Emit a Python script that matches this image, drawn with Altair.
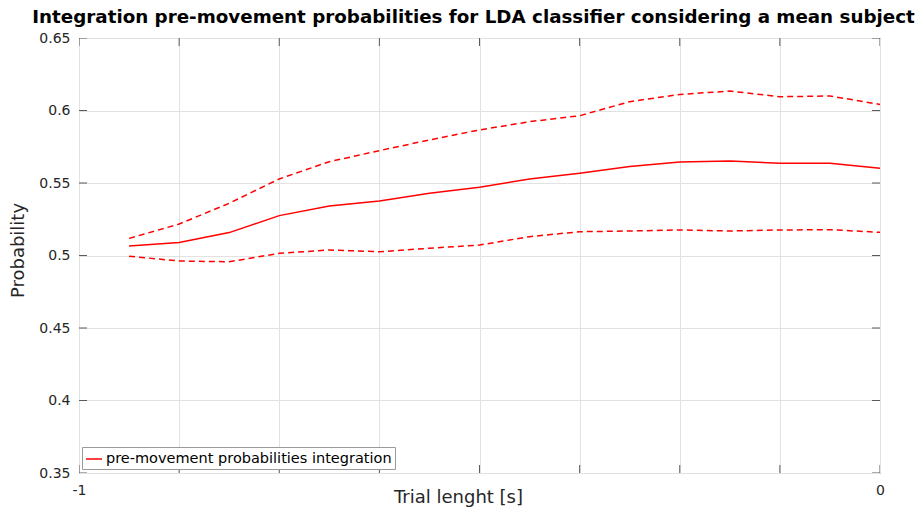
import altair as alt
import pandas as pd

# Trial time (s) at which the probabilities are evaluated
trial_time = [-0.9375, -0.875, -0.8125, -0.75, -0.6875, -0.625, -0.5625, -0.5,
              -0.4375, -0.375, -0.3125, -0.25, -0.1875, -0.125, -0.0625, 0.0]

# Integrated pre-movement probability (mean subject) and its upper / lower band
prob_mean = [0.5066, 0.5089, 0.5158, 0.5275, 0.5341, 0.5376, 0.5429, 0.5470,
             0.5528, 0.5567, 0.5613, 0.5645, 0.5652, 0.5636, 0.5636, 0.5601]
prob_upper = [0.5118, 0.5217, 0.5360, 0.5528, 0.5647, 0.5723, 0.5797, 0.5866,
              0.5923, 0.5964, 0.6061, 0.6111, 0.6134, 0.6095, 0.6100, 0.6042]
prob_lower = [0.4995, 0.4962, 0.4957, 0.5015, 0.5038, 0.5026, 0.5050, 0.5072,
              0.5130, 0.5164, 0.5169, 0.5176, 0.5169, 0.5176, 0.5178, 0.5160]

x_ticks = [-1.0, -0.875, -0.75, -0.625, -0.5, -0.375, -0.25, -0.125, 0.0]
y_ticks = [0.35, 0.4, 0.45, 0.5, 0.55, 0.6, 0.65]
x_range = [-1.0, 0.0]
y_range = [0.35, 0.65]

series_name = "pre-movement probabilities integration"
title_text = "Integration pre-movement probabilities for LDA classifier considering a mean subject"

df = pd.DataFrame({
    "t": trial_time,
    "mean": prob_mean,
    "upper": prob_upper,
    "lower": prob_lower,
    "series": [series_name] * len(trial_time),
})
x_tick_df = pd.DataFrame({"t": x_ticks})
y_tick_df = pd.DataFrame({"p": y_ticks})

RED = "#ff0000"
AX = "#262626"
TICK = "#5a5a5a"
GRID = "#e2e2e2"
FONT = "DejaVu Sans"
W, H = 801, 435

x_scale = alt.Scale(domain=x_range, nice=False, zero=False)
y_scale = alt.Scale(domain=y_range, nice=False, zero=False)

x_main = alt.Axis(
    orient="bottom", values=x_ticks, grid=True, gridColor=GRID, gridWidth=1,
    ticks=False, domain=False, labelFlush=False,
    labelExpr="datum.value == -1 ? '-1' : (datum.value == 0 ? '0' : '')",
    labelFont=FONT, labelFontSize=14, labelColor=AX, labelPadding=10,
    title="Trial lenght [s]", titleFont=FONT, titleFontSize=18,
    titleFontWeight="normal", titleColor=AX, titleX=379, titleY=29,
    titleBaseline="alphabetic",
)
y_main = alt.Axis(
    orient="left", values=y_ticks, format="~g", grid=True, gridColor=GRID,
    gridWidth=1, ticks=False, domain=False,
    labelFont=FONT, labelFontSize=14, labelColor=AX, labelPadding=9,
    title="Probability", titleFont=FONT, titleFontSize=18,
    titleFontWeight="normal", titleColor=AX, titleX=-61, titleY=212,
    titleAngle=270, titleAlign="center", titleBaseline="middle",
)

base = alt.Chart(df)

# the other layers share these axes (their own axis settings are left implicit)
mean_line = base.mark_line(strokeWidth=1.5).encode(
    x=alt.X("t:Q", scale=x_scale, axis=x_main),
    y=alt.Y("mean:Q", scale=y_scale, axis=y_main),
    color=alt.Color(
        "series:N",
        scale=alt.Scale(domain=[series_name], range=[RED]),
        legend=alt.Legend(
            title=None, orient="none", legendX=3, legendY=409,
            labelFont=FONT, labelFontSize=14.5, labelColor="black", labelLimit=0,
            symbolType="stroke", symbolSize=256, symbolStrokeWidth=1.5,
            strokeColor="#9a9a9a", fillColor="white", padding=3,
            labelOffset=3, cornerRadius=0,
        ),
    ),
)

upper_line = base.mark_line(strokeWidth=1.5, strokeDash=[6, 4], color=RED).encode(
    x=alt.X("t:Q", scale=x_scale),
    y=alt.Y("upper:Q", scale=y_scale),
)

lower_line = base.mark_line(strokeWidth=1.5, strokeDash=[6, 4], color=RED).encode(
    x=alt.X("t:Q", scale=x_scale),
    y=alt.Y("lower:Q", scale=y_scale),
)


# Inward tick marks: ticks centred on each frame edge, clipped to the plot
# so only the inner half shows.
def x_edge_ticks(edge):
    return alt.Chart(x_tick_df).mark_tick(
        orient="vertical", size=16, thickness=1, color=TICK, clip=True, opacity=1
    ).encode(
        x=alt.X("t:Q", scale=x_scale),
        y=alt.Y(datum=edge, scale=y_scale),
    )


def y_edge_ticks(edge):
    return alt.Chart(y_tick_df).mark_tick(
        orient="horizontal", size=16, thickness=1, color=TICK, clip=True, opacity=1
    ).encode(
        y=alt.Y("p:Q", scale=y_scale),
        x=alt.X(datum=edge, scale=x_scale),
    )


chart = (
    alt.layer(
        mean_line, upper_line, lower_line,
        x_edge_ticks(y_range[0]), x_edge_ticks(y_range[1]),
        y_edge_ticks(x_range[0]), y_edge_ticks(x_range[1]),
    )
    .properties(
        width=W,
        height=H,
        title=alt.TitleParams(
            text=title_text, font=FONT, fontSize=18.3, fontWeight="bold",
            color="black", anchor="middle", frame="group", dx=-6, offset=4,
        ),
        autosize=alt.AutoSizeParams(type="none"),
        padding={"left": 79, "top": 38, "right": 35, "bottom": 35},
        background="white",
    )
    .configure_view(stroke="#6e6e6e", strokeWidth=1)
)

chart.save("out.html", embed_options={"renderer": "svg", "actions": False})
